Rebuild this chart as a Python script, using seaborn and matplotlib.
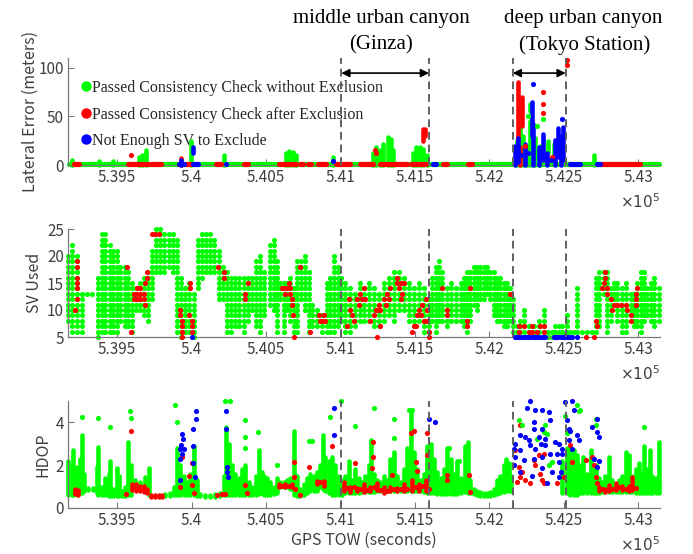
import numpy as np
import pandas as pd
import matplotlib
matplotlib.use('Agg')
import matplotlib.pyplot as plt
from matplotlib.lines import Line2D
import seaborn as sns

sns.set_theme(style='ticks')
plt.rcParams['font.family'] = ['Noto Sans CJK JP', 'DejaVu Sans']
plt.rcParams['xtick.direction'] = 'in'
plt.rcParams['ytick.direction'] = 'in'

GREEN, RED, BLUE = '#00ff00', '#ff0000', '#0000ff'
AXC = '#7a7a7a'
TXT = '#404040'
DOT = 3.7   # marker diameter in points
COLW = 3.3  # width of the dense streaks

# x axis (GPS TOW, seconds)
xticks = [539500, 540000, 540500, 541000, 541500, 542000, 542500, 543000]
xticklabels = ['5.395', '5.4', '5.405', '5.41', '5.415', '5.42', '5.425', '5.43']
region_bounds = [541005, 541594, 542156, 542512]
legend_labels = ['Passed Consistency Check without Exclusion',
                 'Passed Consistency Check after Exclusion',
                 'Not Enough SV to Exclude']

# ---------------- Lateral error (m) ----------------
# runs: (t start, t end, value); cols: (t, low, high); dots: (t, value)
le_green_runs = [(539175, 543135, 0.8)]
le_red_runs = [(539211, 539244, 0.6), (539570, 539704, 0.6), (539727, 539794, 0.6),
               (539917, 539940, 0.6), (539962, 539996, 0.6), (540164, 540198, 0.6),
               (540355, 540377, 0.6), (540590, 540702, 0.6), (540725, 540747, 0.6),
               (540781, 540803, 0.6), (540848, 540904, 0.6), (540971, 541061, 0.6),
               (541129, 541218, 0.6), (541263, 541443, 0.6), (541476, 541577, 0.6),
               (541689, 541712, 0.6), (541858, 541880, 0.6), (542744, 543013, 0.6)]
le_blue_runs = [(539917, 539951, 1.5), (540007, 540040, 1.5), (541622, 541644, 0.8),
                (542542, 542609, 1.0), (542721, 542743, 1.0)]
le_green_cols = [(539199, 0, 5), (539379, 0, 4), (539469, 0, 4), (539648, 0, 8),
                 (539670, 0, 10), (539693, 0, 15), (539996, 0, 25), (540220, 0, 10),
                 (540635, 0, 12), (540657, 0, 14), (540680, 0, 13), (540700, 0, 10),
                 (540949, 0, 8), (541218, 0, 12), (541241, 0, 19), (541263, 0, 15),
                 (541286, 0, 22), (541319, 0, 29), (541342, 0, 27), (541353, 0, 15),
                 (541487, 0, 12), (541510, 0, 19), (541532, 0, 18), (541555, 0, 16),
                 (541582, 0, 10), (542183, 0, 25), (542205, 0, 38), (542228, 0, 30),
                 (542250, 0, 20), (542273, 56, 63), (542273, 0, 45), (542306, 0, 28),
                 (542340, 0, 20), (542396, 12, 25), (542430, 10, 22), (542474, 20, 25),
                 (542699, 0, 10)]
le_green_dots = [(542362, 47), (542318, 40), (542262, 50)]
le_red_cols = [(539930, 0, 7), (541555, 25, 37), (541566, 30, 37), (542194, 25, 85),
               (542217, 40, 70), (542205, 0, 19)]
le_red_dots = [(539592, 10), (541230, 15), (541241, 12), (542362, 75), (542362, 63),
               (542362, 53), (542519, 108), (542519, 103), (542240, 20), (542420, 8)]
le_blue_cols = [(539930, 0, 5), (540012, 12, 18), (542172, 0, 20), (542194, 3, 28),
                (542239, 0, 22), (542284, 30, 65), (542295, 0, 42), (542330, 0, 18),
                (542362, 5, 32), (542385, 0, 12), (542440, 0, 26), (542458, 8, 38),
                (542480, 0, 30), (542497, 5, 39)]
le_blue_dots = [(540231, 1), (540949, 4), (542295, 83), (542486, 47), (542262, 12),
                (542350, 10), (542410, 5), (542215, 10)]

# ---------------- SV used: columns of integer counts (t, low, high) ----------------
sv_green_cols = [
    (539172, 8, 20), (539199, 6, 22), (539229, 6, 20), (539262, 6, 13), (539296, 13, 13),
    (539329, 13, 13), (539374, 5, 16), (539397, 6, 24), (539419, 6, 24), (539453, 6, 22),
    (539475, 6, 21), (539498, 6, 21), (539520, 8, 18), (539554, 7, 18), (539576, 7, 17),
    (539599, 6, 15), (539626, 10, 14), (539655, 10, 15), (539682, 9, 16), (539706, 8, 17),
    (539733, 12, 21), (539760, 17, 25), (539789, 17, 25), (539816, 17, 24), (539845, 18, 24),
    (539872, 17, 24), (539901, 6, 23), (539931, 5, 16), (539957, 6, 14), (539984, 6, 15),
    (540014, 5, 13), (540040, 14, 23), (540070, 16, 24), (540097, 17, 24), (540126, 17, 24),
    (540153, 17, 23), (540182, 12, 21), (540209, 12, 18), (540238, 6, 17), (540265, 6, 16),
    (540294, 7, 16), (540321, 7, 16), (540350, 6, 16), (540377, 8, 16), (540406, 10, 16),
    (540433, 7, 19), (540462, 6, 20), (540489, 9, 17),
    (540528, 11, 22), (540550, 10, 23), (540573, 6, 19), (540595, 12, 15), (540618, 6, 15),
    (540640, 10, 15), (540662, 8, 16), (540685, 6, 14), (540707, 6, 19), (540734, 12, 19),
    (540763, 10, 20), (540786, 6, 17), (540808, 7, 11), (540842, 7, 10), (540876, 6, 9),
    (540909, 6, 15), (540932, 6, 16), (540959, 6, 20), (540981, 7, 18), (541003, 8, 16),
    (541033, 6, 15), (541066, 6, 14), (541100, 7, 13), (541133, 8, 15), (541156, 8, 14),
    (541190, 8, 15), (541223, 7, 14), (541257, 7, 13), (541290, 8, 15), (541324, 9, 16),
    (541358, 8, 17), (541391, 10, 17), (541425, 10, 16), (541459, 8, 15), (541492, 7, 14),
    (541526, 8, 15), (541560, 6, 14), (541593, 6, 12), (541616, 8, 16), (541638, 6, 18),
    (541661, 8, 19), (541683, 8, 17), (541712, 7, 14), (541739, 8, 15), (541773, 8, 14),
    (541806, 8, 15),
    (541826, 7, 16), (541849, 6, 17), (541871, 8, 17), (541894, 11, 18), (541916, 10, 18),
    (541938, 12, 18), (541961, 12, 18), (541983, 13, 18), (542006, 12, 17), (542028, 9, 17),
    (542051, 8, 16), (542073, 8, 16), (542095, 7, 15), (542118, 7, 15), (542140, 8, 14),
    (542156, 6, 12), (542185, 6, 7), (542208, 6, 8), (542230, 6, 10), (542264, 6, 7),
    (542297, 6, 7), (542331, 6, 8), (542365, 6, 10), (542394, 5, 6), (542421, 5, 6),
    (542443, 6, 7), (542465, 6, 7), (542488, 6, 7), (542522, 6, 9), (542544, 6, 6),
    (542566, 6, 6), (542589, 6, 14), (542622, 6, 6), (542656, 6, 6), (542690, 6, 6),
    (542712, 6, 16), (542735, 7, 17), (542768, 13, 17), (542791, 6, 17), (542813, 8, 14),
    (542836, 12, 15), (542858, 8, 15), (542892, 6, 14), (542914, 6, 15), (542948, 8, 13),
    (542970, 7, 13), (542993, 7, 15), (543015, 6, 17), (543037, 8, 17), (543060, 9, 14),
    (543082, 8, 15), (543105, 7, 16), (543138, 8, 14)]
sv_red = [
    (539229, 19), (539229, 18), (539229, 16), (539229, 15), (539229, 14), (539229, 12),
    (539217, 10), (539565, 18), (539592, 6), (539610, 13), (539610, 12), (539632, 14),
    (539632, 13), (539632, 12), (539655, 14), (539655, 13), (539655, 12), (539677, 13),
    (539677, 12), (539688, 15), (539688, 11), (539700, 16), (539700, 17), (539733, 24),
    (539756, 24), (539778, 24), (539924, 10), (539924, 9), (539935, 8), (539935, 7),
    (539935, 6), (539935, 5), (539980, 9), (539991, 15), (539991, 14), (540002, 8),
    (540002, 7), (540002, 6), (540177, 18), (540215, 17), (540215, 16), (540361, 13),
    (540361, 12), (540379, 15),
    (540606, 14), (540618, 14), (540629, 13), (540640, 14), (540651, 15), (540662, 14),
    (540662, 13), (540674, 12), (540674, 11), (540680, 9), (540685, 5), (540730, 18),
    (540797, 6), (540853, 9), (540864, 8), (540876, 8), (540887, 9), (540898, 8),
    (541044, 7), (541055, 12), (541066, 10), (541077, 9), (541089, 8), (541111, 12),
    (541122, 11), (541133, 13), (541145, 12), (541156, 14), (541167, 12), (541201, 8),
    (541223, 9), (541235, 10), (541246, 10), (541257, 11), (541268, 10), (541268, 7),
    (541246, 5), (541290, 12), (541302, 11), (541313, 13), (541324, 12), (541335, 14),
    (541380, 16), (541380, 15), (541391, 14), (541403, 15), (541403, 12), (541414, 13),
    (541425, 15), (541481, 6), (541492, 7), (541504, 7), (541515, 9), (541526, 10),
    (541537, 9), (541548, 11), (541560, 8), (541571, 12), (541582, 8), (541582, 10),
    (541593, 6), (541593, 5), (541683, 14), (541712, 10), (541712, 9),
    (541849, 8), (541849, 7), (541871, 14), (542140, 13), (542196, 6), (542196, 7),
    (542230, 7), (542264, 6), (542286, 6), (542286, 7), (542320, 6), (542342, 7),
    (542365, 6), (542365, 7), (542645, 5), (542701, 5), (542712, 8), (542723, 7),
    (542757, 14), (542768, 15), (542779, 17), (542779, 16), (542791, 14), (542791, 13),
    (542813, 12), (542824, 10), (542836, 11), (542858, 11), (542880, 11), (542914, 11),
    (542925, 10), (542948, 9), (542948, 8), (542986, 13), (542986, 12), (542986, 11),
    (542993, 14)]
sv_blue = [(540002, 5), (542170, 5), (542185, 5), (542200, 5), (542215, 5), (542230, 5),
           (542245, 5), (542260, 5), (542275, 5), (542290, 5), (542305, 5), (542320, 5),
           (542335, 5), (542350, 5), (542365, 5), (542376, 5), (542432, 5), (542447, 5),
           (542462, 5), (542477, 5), (542492, 5), (542507, 5), (542522, 5), (542537, 5),
           (542552, 5), (542589, 5)]

# ---------------- HDOP ----------------
hd_green_cols = [
    (539172, 0.6, 2.2), (539195, 0.6, 2.0), (539206, 0.6, 2.7), (539229, 0.6, 1.9),
    (539251, 0.7, 2.3), (539262, 0.7, 3.4), (539280, 0.8, 1.6), (539307, 0.85, 0.95),
    (539341, 0.85, 0.95), (539363, 0.7, 1.9), (539374, 0.6, 2.85), (539397, 0.6, 1.0),
    (539419, 0.6, 1.4), (539442, 0.55, 1.6), (539453, 0.55, 2.2), (539475, 0.55, 0.9),
    (539498, 0.55, 1.85), (539513, 0.55, 1.5), (539531, 0.55, 0.8), (539554, 0.55, 1.0),
    (539576, 0.6, 3.1), (539594, 0.6, 2.0), (539621, 1.0, 1.3), (539655, 1.0, 1.2),
    (539688, 0.9, 1.45), (539711, 0.6, 1.85), (539823, 0.55, 0.65), (539857, 0.55, 0.7),
    (539879, 0.6, 1.0), (539901, 0.6, 2.8), (539924, 0.6, 2.0), (539946, 0.6, 1.5),
    (539969, 0.6, 1.2), (539991, 0.6, 1.6), (540014, 0.6, 2.9), (540036, 0.55, 1.3),
    (540058, 0.55, 0.65), (540092, 0.5, 0.6), (540126, 0.5, 0.6), (540159, 0.5, 0.65),
    (540193, 0.55, 0.7), (540215, 0.6, 1.5), (540231, 0.6, 3.8), (540249, 0.6, 3.0),
    (540272, 0.6, 2.0), (540294, 0.6, 1.6), (540316, 0.6, 1.4), (540339, 0.6, 1.8),
    (540361, 0.6, 2.0), (540384, 0.6, 1.2), (540406, 0.6, 1.0), (540429, 0.6, 1.5),
    (540451, 0.65, 2.7), (540473, 0.7, 1.7),
    (540483, 0.6, 1.5), (540505, 0.6, 1.4), (540528, 0.6, 1.2), (540550, 0.65, 1.0),
    (540573, 0.7, 1.4), (540595, 1.0, 1.2), (540618, 1.0, 1.2), (540640, 1.0, 1.3),
    (540662, 0.9, 1.4), (540685, 0.6, 3.6), (540707, 0.55, 1.5), (540730, 0.55, 0.9),
    (540752, 0.6, 1.1), (540775, 0.7, 1.4), (540797, 0.8, 1.6), (540819, 0.8, 1.5),
    (540842, 0.8, 1.7), (540864, 1.0, 2.0), (540882, 0.9, 3.4), (540898, 0.8, 2.4),
    (540920, 0.7, 2.2), (540943, 0.6, 2.4), (540965, 0.6, 2.0), (540988, 0.6, 1.5),
    (541010, 0.6, 1.3), (541033, 0.7, 1.5), (541055, 0.7, 2.2), (541077, 0.7, 1.3),
    (541100, 0.7, 1.8), (541122, 0.7, 1.4), (541145, 0.75, 1.2), (541167, 0.75, 1.5),
    (541190, 0.75, 2.0), (541205, 0.75, 3.2), (541223, 0.75, 1.6), (541246, 0.8, 1.3),
    (541268, 0.8, 1.2), (541290, 0.8, 1.5), (541313, 0.8, 1.3), (541335, 0.8, 2.3),
    (541358, 0.8, 2.6), (541380, 0.8, 1.5), (541403, 0.8, 1.2), (541425, 0.8, 1.8),
    (541447, 0.8, 2.8), (541470, 0.8, 4.55), (541492, 0.8, 2.6), (541515, 0.8, 1.8),
    (541537, 0.8, 1.3), (541560, 0.75, 1.6), (541582, 0.7, 2.9), (541605, 0.7, 3.0),
    (541627, 0.7, 2.3), (541649, 0.65, 1.7), (541672, 0.65, 1.4), (541694, 0.65, 1.8),
    (541717, 0.65, 2.8), (541739, 0.65, 2.3), (541762, 0.65, 1.6), (541784, 0.65, 2.2),
    (541806, 0.7, 1.4),
    (541837, 0.75, 2.9), (541855, 0.7, 3.1), (541871, 0.7, 1.3), (541894, 0.65, 0.9),
    (541916, 0.6, 0.8), (541938, 0.55, 0.75), (541961, 0.55, 0.7), (541983, 0.55, 0.7),
    (542006, 0.55, 0.75), (542028, 0.6, 0.9), (542051, 0.65, 1.3), (542073, 0.7, 1.5),
    (542095, 0.75, 2.0), (542111, 0.8, 2.3), (542129, 0.8, 2.1), (542147, 0.8, 1.5),
    (542488, 0.7, 2.2), (542522, 0.7, 2.8), (542544, 0.6, 2.9), (542566, 0.6, 2.7),
    (542589, 0.6, 2.5), (542611, 0.7, 2.0), (542627, 0.7, 2.4), (542656, 0.7, 1.6),
    (542679, 0.7, 2.7), (542701, 0.7, 1.8), (542712, 0.7, 2.0), (542735, 0.7, 1.4),
    (542757, 0.75, 1.2), (542779, 0.75, 1.5), (542802, 0.75, 2.4), (542824, 0.75, 1.3),
    (542847, 0.75, 1.1), (542869, 0.75, 1.3), (542892, 0.75, 1.5), (542914, 0.75, 2.6),
    (542937, 0.75, 2.5), (542959, 0.75, 1.5), (542981, 0.7, 1.8), (543004, 0.7, 2.1),
    (543026, 0.7, 1.6), (543037, 0.7, 2.9), (543060, 0.7, 1.8), (543076, 0.7, 2.7),
    (543094, 0.7, 1.5), (543116, 0.7, 1.4), (543138, 0.7, 3.1)]
hd_green_dots = [
    (539262, 4.25), (539374, 4.2), (539453, 3.8), (539587, 4.55), (539592, 4.2),
    (539890, 4.8), (539901, 4.0), (540227, 5.0), (540260, 5.0), (540361, 4.1),
    (540361, 3.3), (540361, 2.8), (540446, 3.55), (540573, 2.0), (540786, 3.15),
    (540808, 3.15), (540932, 4.25), (541000, 5.0), (541100, 3.85), (541223, 4.65),
    (541358, 4.15), (541358, 3.25), (541459, 4.6), (541481, 4.6), (541728, 2.8),
    (541795, 2.2), (542200, 4.1), (542219, 3.9), (542365, 3.55), (542387, 3.47),
    (542376, 3.9), (542320, 3.24), (542421, 2.15), (542398, 2.0), (542510, 4.3),
    (542522, 3.5), (542589, 4.8), (542600, 4.55), (542611, 4.6), (542712, 4.17),
    (542712, 3.86), (543037, 3.8)]
hd_red_cols = [
    (539217, 0.65, 0.9), (539235, 0.6, 0.85), (539599, 0.85, 1.1), (539626, 0.8, 1.1),
    (539655, 0.8, 1.05), (539682, 0.75, 1.05), (539700, 0.7, 0.9), (539729, 0.5, 0.6),
    (539756, 0.5, 0.6), (539783, 0.5, 0.6), (539800, 0.5, 0.6),
    (540584, 1.0, 1.1), (540629, 1.0, 1.1), (540674, 1.0, 1.1),
    (540842, 1.1, 1.25), (540887, 1.05, 1.25), (541021, 0.8, 1.2), (541066, 0.75, 1.0),
    (541111, 0.8, 0.95), (541156, 0.75, 1.1), (541201, 0.8, 1.0), (541246, 0.85, 1.15),
    (541290, 0.7, 1.0), (541335, 0.8, 1.0), (541380, 0.8, 0.95), (541425, 0.8, 1.1),
    (541481, 0.8, 1.3), (541526, 0.8, 1.1), (541571, 0.8, 1.3),
    (542735, 0.8, 1.0), (542779, 0.75, 0.9), (542802, 0.8, 1.07), (542847, 0.85, 1.15),
    (542892, 0.85, 1.05), (542937, 0.8, 1.05), (542959, 0.85, 1.45)]
hd_red_dots = [
    (539560, 0.65), (539592, 3.6), (539924, 1.0), (539935, 2.4), (539980, 1.5),
    (540002, 2.1), (540002, 1.07), (540014, 0.7), (540171, 0.6), (540204, 0.65),
    (540222, 0.65), (540361, 1.07), (540372, 0.7), (540685, 2.15), (540689, 1.45),
    (540696, 0.9), (540730, 0.63), (540786, 1.9), (540943, 2.9), (541100, 2.1),
    (541219, 3.1), (541219, 2.4), (541212, 1.85), (541347, 1.55), (541470, 3.5),
    (541492, 3.6), (541504, 2.15), (541515, 1.75), (541582, 3.5), (541582, 2.5),
    (541712, 1.55), (541712, 1.3), (541860, 1.55), (541871, 0.75), (542208, 3.9),
    (542174, 2.7), (542196, 1.9), (542219, 1.7), (542208, 1.45), (542241, 1.3),
    (542185, 1.22), (542275, 1.15), (542297, 2.23), (542308, 2.0), (542331, 2.46),
    (542365, 2.54), (542342, 1.6), (542353, 1.3), (542365, 1.15), (542454, 1.15),
    (542499, 1.45), (542555, 2.15), (542544, 2.93), (542690, 2.4), (542701, 2.0),
    (542712, 1.45), (542723, 1.15), (542645, 2.23), (540606, 1.05), (540651, 1.05),
    (540864, 1.2), (541044, 0.95), (541089, 1.0), (541133, 0.9), (541178, 0.85),
    (541223, 1.0), (541268, 0.85), (541313, 0.8), (541358, 0.9), (541403, 0.9),
    (541447, 0.9), (541504, 1.0), (541548, 1.05), (541593, 0.9), (542757, 0.9),
    (542824, 0.9), (542869, 1.0), (542914, 0.9), (542981, 0.95)]
hd_blue_dots = [
    (539935, 3.47), (539940, 3.24), (539931, 2.93), (539924, 2.78), (539946, 2.78),
    (539935, 2.54), (539924, 2.3), (539924, 1.3), (540009, 3.7), (540009, 2.9),
    (540009, 2.1), (540025, 1.45), (540029, 4.55), (540029, 4.15), (540233, 4.55),
    (540233, 3.7), (540238, 1.9), (540238, 1.7), (540242, 1.45), (540954, 3.4),
    (540954, 4.65), (541594, 4.15), (541631, 4.0),
    (542275, 4.98), (542252, 4.67), (542308, 4.56), (542353, 4.6), (542403, 4.5),
    (542409, 4.1), (542297, 4.0), (542353, 3.7), (542297, 3.7), (542208, 3.4),
    (542241, 3.3), (542264, 3.16), (542335, 3.3), (542347, 3.0), (542174, 3.0),
    (542163, 2.78), (542208, 2.7), (542275, 2.93), (542308, 2.78), (542376, 2.93),
    (542443, 3.1), (542470, 3.0), (542488, 2.78), (542510, 4.95), (542555, 5.0),
    (542566, 4.6), (542522, 4.1), (542533, 3.7), (542544, 3.6), (542589, 3.4),
    (542600, 3.16), (542533, 3.16), (542555, 2.78), (542488, 2.54), (542454, 2.54),
    (542409, 2.54), (542353, 2.4), (542297, 2.3), (542230, 2.23), (542174, 2.4),
    (542163, 2.0), (542208, 1.7), (542286, 1.5), (542353, 1.85), (542465, 2.15),
    (542477, 1.7), (542465, 1.45), (542421, 1.7), (542387, 1.15), (542376, 3.24),
    (542723, 4.17), (542690, 3.78), (542723, 3.55), (542735, 3.3), (542723, 1.9),
    (542735, 2.2), (542701, 2.3)]


def draw_runs(ax, runs, color, z):
    t0, t1, v = zip(*runs)
    ax.hlines(v, t0, t1, colors=color, linewidth=DOT, capstyle='round', clip_on=False, zorder=z)


def draw_cols(ax, cols, color, z):
    t, lo, hi = zip(*cols)
    ax.vlines(t, lo, hi, colors=color, linewidth=COLW, capstyle='round', clip_on=False, zorder=z)


def draw_dots(ax, dots, color, z):
    d = pd.DataFrame(dots, columns=['t', 'v'])
    sns.scatterplot(data=d, x='t', y='v', color=color, s=DOT ** 2, linewidth=0,
                    ax=ax, clip_on=False, legend=False, zorder=z)


fig = plt.figure(figsize=(6.93, 5.54), dpi=100)
W, H = 693, 554
ax1 = fig.add_axes([68 / W, 1 - 165 / H, 592 / W, 107 / H])
ax2 = fig.add_axes([68 / W, 1 - 337 / H, 592 / W, 108 / H])
ax3 = fig.add_axes([68 / W, 1 - 508 / H, 592 / W, 107 / H])

# lateral error
draw_runs(ax1, le_green_runs, GREEN, 2)
draw_cols(ax1, le_green_cols, GREEN, 2)
draw_runs(ax1, le_red_runs, RED, 3)
draw_cols(ax1, le_red_cols, RED, 3)
draw_runs(ax1, le_blue_runs, BLUE, 4)
draw_cols(ax1, le_blue_cols, BLUE, 4)
draw_dots(ax1, le_green_dots, GREEN, 4.5)
draw_dots(ax1, le_red_dots, RED, 4.6)
draw_dots(ax1, le_blue_dots, BLUE, 4.7)

# SV used: every integer count inside a column is one epoch dot
sv_green = [(t, s) for t, lo, hi in sv_green_cols for s in range(lo, hi + 1)]
draw_dots(ax2, sv_green, GREEN, 2)
draw_dots(ax2, sv_red, RED, 3)
draw_dots(ax2, sv_blue, BLUE, 4)

# HDOP
draw_cols(ax3, hd_green_cols, GREEN, 2)
draw_cols(ax3, hd_red_cols, RED, 3)
draw_dots(ax3, hd_red_dots, RED, 3)
draw_dots(ax3, hd_green_dots, GREEN, 3.5)
draw_dots(ax3, hd_blue_dots, BLUE, 4)

setup = [(ax1, (0, 110), [0, 50, 100], 'Lateral Error (meters)', 0),
         (ax2, (5, 25), [5, 10, 15, 20, 25], 'SV Used', 2.5),
         (ax3, (0, 5), [0, 2, 4], 'HDOP', 3)]
for ax, ylim, yt, lab, pad in setup:
    ax.set_xlim(539170, 543145)
    ax.set_ylim(*ylim)
    ax.set_xticks(xticks)
    ax.set_xticklabels(xticklabels)
    ax.set_yticks(yt)
    ax.set_xlabel('')
    ax.set_ylabel(lab, color=TXT, fontsize=11.5, labelpad=pad)
    ax.tick_params(colors=AXC, labelcolor=TXT, labelsize=11, length=4, width=0.8, pad=3)
    for s in ['top', 'right']:
        ax.spines[s].set_visible(False)
    for s in ['left', 'bottom']:
        ax.spines[s].set_color(AXC)
        ax.spines[s].set_linewidth(0.9)
    ax.text(1.0, -38 / (ax.bbox.height), r'$\times10^{5}$', transform=ax.transAxes,
            ha='right', va='center', color=TXT, fontsize=11)
    for b in region_bounds:
        ax.axvline(b, color='#606060', lw=1.4, ls=(0, (4, 2.5)), zorder=5)

ax3.set_xlabel('GPS TOW (seconds)', color=TXT, fontsize=11.5, labelpad=2)

# double arrows over the two canyons
for a, b in [(region_bounds[0], region_bounds[1]), (region_bounds[2], region_bounds[3])]:
    ax1.annotate('', xy=(a, 94.5), xytext=(b, 94.5), annotation_clip=False,
                 arrowprops=dict(arrowstyle='<|-|>', color='black', lw=1.2,
                                 mutation_scale=12, shrinkA=0, shrinkB=0))

serif = dict(family='Liberation Serif', fontsize=15, ha='center', va='center', color='black')
fig.text(381 / W, 1 - 18 / H, 'middle urban canyon', **serif)
fig.text(381 / W, 1 - 45 / H, '(Ginza)', **serif)
fig.text(583 / W, 1 - 18 / H, 'deep urban canyon', **serif)
fig.text(585 / W, 1 - 45 / H, '(Tokyo Station)', **serif)

handles = [Line2D([], [], marker='o', ls='none', color=c, markersize=6.5) for c in (GREEN, RED, BLUE)]
leg = ax1.legend(handles, legend_labels, loc='upper left', bbox_to_anchor=(82 / W, 1 - 80 / H),
                 bbox_transform=fig.transFigure, frameon=False,
                 prop={'family': 'Liberation Serif', 'size': 11.5},
                 handlelength=0.5, handletextpad=0.15, labelspacing=0.66,
                 borderpad=0, borderaxespad=0)
leg.set_zorder(1)

fig.savefig('out.png', dpi=100)
